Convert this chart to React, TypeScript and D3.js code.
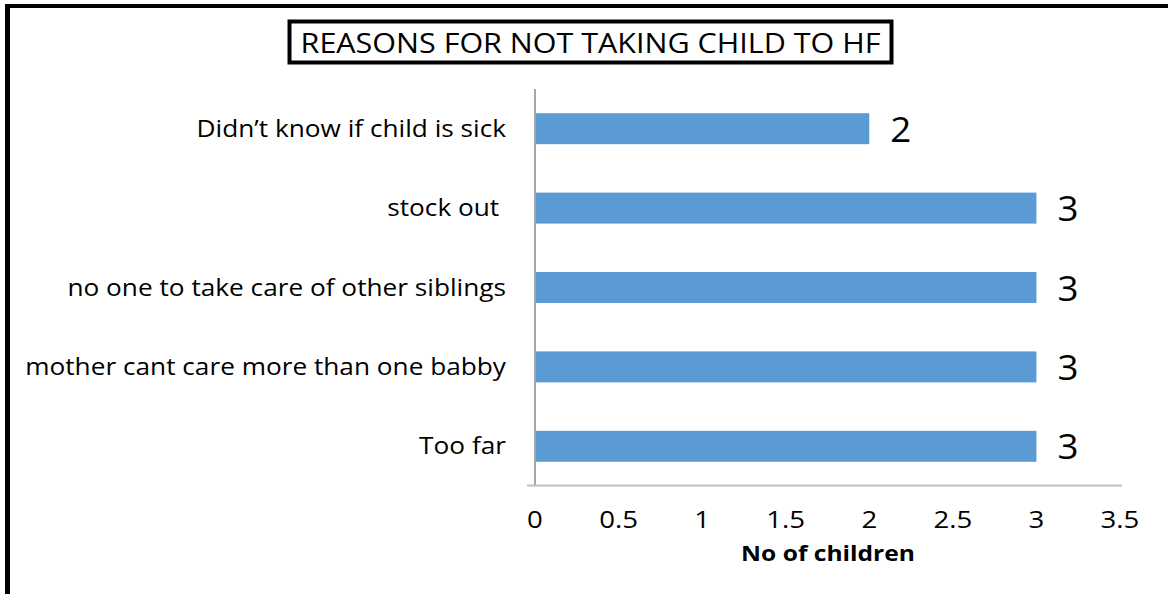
import React from "react";
import * as d3 from "d3";

const categories = [
  "Didn\u2019t know if child is sick",
  "stock out ",
  "no one to take care of other siblings",
  "mother cant care more than one babby",
  "Too far",
];
const values = [2, 3, 3, 3, 3];
const xTicks = [0, 0.5, 1, 1.5, 2, 2.5, 3, 3.5];
const title = "REASONS FOR NOT TAKING CHILD TO HF";
const xTitle = "No of children";

const W = 1168;
const H = 594;
const FONT = "'Open Sans', sans-serif";

function T({
  x,
  y,
  sx,
  children,
  ...rest
}: {
  x: number;
  y: number;
  sx: number;
  children: React.ReactNode;
  [k: string]: any;
}) {
  return (
    <g transform={`translate(${x},${y}) scale(${sx},1)`}>
      <text x={0} y={0} fontFamily={FONT} fill="#000" {...rest}>
        {children}
      </text>
    </g>
  );
}

export default function App() {
  const x = d3.scaleLinear().domain([0, 3.5]).range([535, 1120]);
  const y = d3
    .scaleBand<string>()
    .domain(categories)
    .range([89, 486])
    .paddingInner(0.61)
    .paddingOuter(0.305);

  return (
    <svg
      width={W}
      height={H}
      style={{ position: "absolute", left: 0, top: 0, background: "#fff" }}
    >
      {/* outer frame (top + left) */}
      <line x1={5} x2={W} y1={6} y2={6} stroke="#000" strokeWidth={4} />
      <line x1={7.5} x2={7.5} y1={4} y2={H} stroke="#000" strokeWidth={5} />

      {/* title box */}
      <rect x={289.5} y={21.5} width={602} height={41} fill="#fff" stroke="#000" strokeWidth={4} />
      <T x={590.5} y={53} sx={1.09} textAnchor="middle" fontSize={28}>
        {title}
      </T>

      {/* bars */}
      {categories.map((c, i) => (
        <rect
          key={c}
          x={x(0)}
          y={y(c)!}
          width={x(values[i]) - x(0)}
          height={y.bandwidth()}
          fill="#5B9BD5"
        />
      ))}

      {/* value labels */}
      {categories.map((c, i) => (
        <T
          key={"v" + c}
          x={x(values[i]) + 21}
          y={y(c)! + y.bandwidth() / 2 + 13}
          sx={1.05}
          fontSize={35}
        >
          {values[i]}
        </T>
      ))}

      {/* axes lines */}
      <line x1={x(0)} x2={x(0)} y1={89} y2={486} stroke="#A6A6A6" strokeWidth={2} />
      <line x1={527} x2={1122} y1={485.5} y2={485.5} stroke="#BFBFBF" strokeWidth={2} />

      {/* category labels */}
      {categories.map((c) => (
        <T
          key={"c" + c}
          x={506}
          y={y(c)! + y.bandwidth() / 2 + 8}
          sx={1.14}
          textAnchor="end"
          fontSize={23}
          style={{ whiteSpace: "pre" }}
        >
          {c}
        </T>
      ))}

      {/* x tick labels */}
      {xTicks.map((t) => (
        <T key={"t" + t} x={x(t)} y={528} sx={1.15} textAnchor="middle" fontSize={24}>
          {String(t)}
        </T>
      ))}

      <T x={828} y={561} sx={1.17} textAnchor="middle" fontSize={21} fontWeight="bold">
        {xTitle}
      </T>
    </svg>
  );
}
